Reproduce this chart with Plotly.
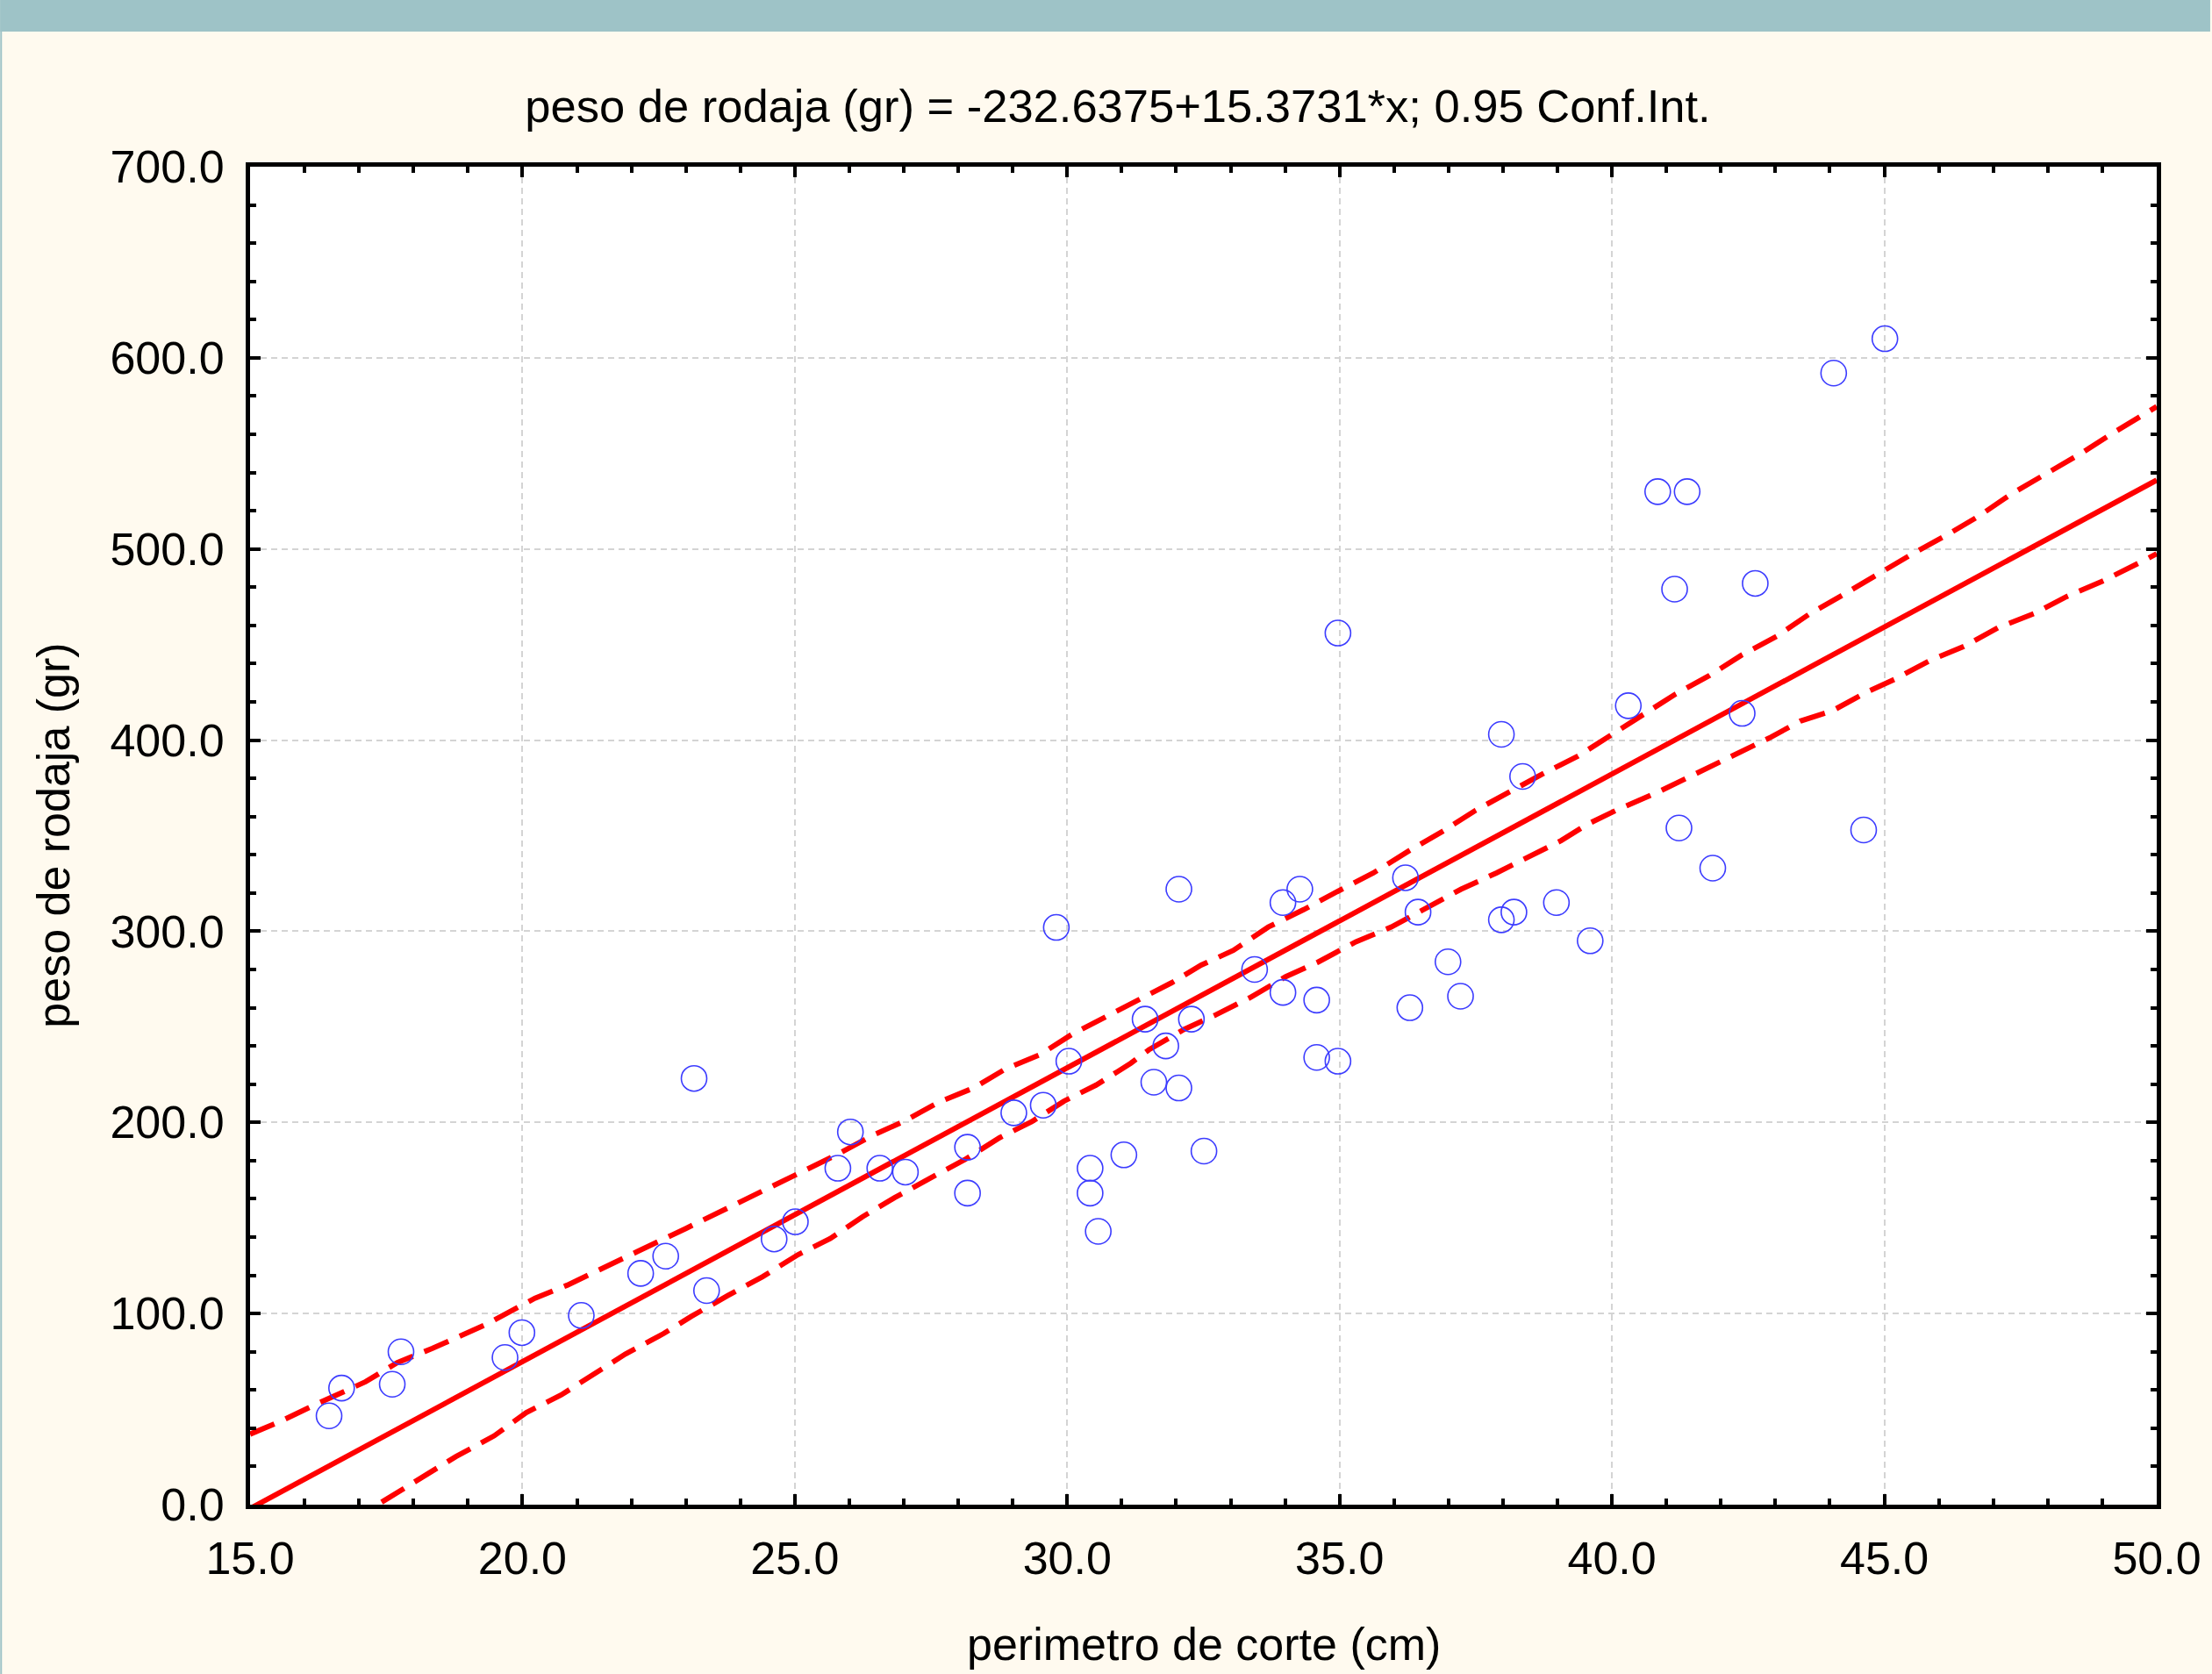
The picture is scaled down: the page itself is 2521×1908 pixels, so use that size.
import plotly.graph_objects as go

# ---- data ----
perimetro = [16.45, 16.68, 17.61, 17.77, 19.68, 19.99, 21.08, 22.17, 22.63, 23.15,
             23.38, 24.62, 25.01, 25.79, 26.02, 26.56, 27.03, 28.17, 28.17, 29.02,
             29.56, 29.80, 30.03, 30.42, 30.42, 30.57, 31.04, 31.43, 31.81, 31.59,
             32.05, 32.05, 32.28, 32.51, 33.44, 33.96, 33.96, 34.27, 34.58, 34.58,
             34.97, 34.97, 36.21, 36.29, 36.44, 36.99, 37.22, 37.97, 37.97, 38.20,
             38.36, 38.98, 39.60, 40.30, 40.84, 41.15, 41.23, 41.38, 41.85, 42.39,
             42.63, 44.07, 44.62, 45.01]
peso = [46.5, 61, 63, 80, 77, 90, 99, 121, 130, 223,
        112, 139, 148, 176, 195, 176, 174, 187, 163, 205,
        209, 302, 232, 176, 163, 143, 183, 254, 240, 221,
        218, 322, 254, 185, 280, 315, 268, 322, 264, 234,
        456, 232, 328, 260, 310, 284, 266, 403, 306, 310,
        381, 315, 295, 418, 530, 479, 354, 530, 333, 414,
        482, 592, 353, 610]

# regression line endpoints (from title: -232.6375 + 15.3731*x)
fit_x = [15.0, 50.0]
fit_y = [-2.04, 536.02]

# 0.95 confidence band
upper_x = [15.0, 15.56, 16.21, 17.12, 17.7, 18.35, 19.31, 20.23, 20.82, 21.46,
           22.1, 23.0, 23.77, 24.52, 25.22, 25.75, 26.4, 26.99, 27.63, 28.28,
           28.87, 29.51, 30.1, 30.69, 31.33, 31.92, 32.46, 33.05, 33.69, 34.34,
           35.04, 35.62, 36.27, 36.91, 37.5, 38.09, 38.74, 39.38, 39.97, 40.56,
           41.15, 41.79, 42.38, 43.03, 43.62, 44.21, 44.91, 45.5, 46.14, 46.73,
           47.32, 47.96, 48.61, 49.2, 50.0]
upper_y = [36.9, 43.6, 52.5, 64.3, 74.3, 81.8, 94.0, 108.0, 114.8, 123.9,
           132.3, 144.5, 155.3, 165.3, 175.2, 182.8, 192.8, 200.4, 210.4, 218.0,
           228.0, 235.6, 246.3, 254.8, 264.3, 273.1, 282.3, 290.0, 302.2, 311.3,
           322.0, 330.5, 342.0, 352.6, 363.3, 372.6, 382.5, 391.7, 402.4, 413.1,
           423.8, 433.8, 444.5, 454.4, 465.9, 475.5, 487.3, 497.2, 507.2, 517.1,
           528.6, 539.3, 550.0, 560.7, 574.5]
lower_x = [15.0, 17.28, 17.98, 18.78, 19.48, 20.07, 20.71, 21.36, 21.89, 22.59,
           23.1, 23.77, 24.41, 25.06, 25.65, 26.24, 26.83, 27.47, 28.12, 28.76,
           29.35, 29.94, 30.53, 31.17, 31.5, 32.14, 32.73, 33.37, 34.01, 34.6,
           35.3, 35.95, 36.59, 37.23, 37.88, 38.47, 39.06, 39.55, 40.08, 40.83,
           41.53, 42.22, 42.92, 43.46, 44.05, 44.69, 45.2, 45.82, 46.46, 47.1,
           47.75, 48.34, 49.03, 49.73, 50.0]
lower_y = [-41.0, -0.8, 11.5, 25.2, 36.0, 48.2, 57.4, 68.9, 78.8, 89.5,
           98.5, 109.4, 119.3, 130.8, 139.2, 150.6, 160.6, 170.6, 180.5, 192.0,
           200.4, 211.1, 219.5, 231.0, 238.0, 248.6, 256.3, 265.5, 276.2, 283.8,
           294.5, 302.2, 312.1, 322.0, 330.5, 338.9, 347.3, 356.0, 363.3, 372.6,
           382.4, 391.7, 401.6, 410.0, 415.4, 425.3, 432.0, 441.4, 449.0, 459.0,
           466.2, 475.0, 483.5, 493.5, 497.5]

title_text = "peso de rodaja (gr) = -232.6375+15.3731*x; 0.95 Conf.Int."
x_title = "perimetro de corte (cm)"
y_title = "peso de rodaja (gr)"

# ---- figure ----
W, H = 2521, 1908
ML, MR, MT, MB = 285, 61, 190, 193
PW, PH = W - ML - MR, H - MT - MB
FONT = "Arial, Liberation Sans, sans-serif"
BG = "#FFFAEF"
TEAL = "#9EC3C7"
RED = "#FF0000"

fig = go.Figure()
fig.add_trace(go.Scatter(x=upper_x, y=upper_y, mode="lines",
                         line=dict(color=RED, width=6, dash="30px,14px"),
                         showlegend=False, hoverinfo="skip"))
fig.add_trace(go.Scatter(x=lower_x, y=lower_y, mode="lines",
                         line=dict(color=RED, width=6, dash="30px,14px"),
                         showlegend=False, hoverinfo="skip"))
fig.add_trace(go.Scatter(x=fit_x, y=fit_y, mode="lines",
                         line=dict(color=RED, width=6),
                         showlegend=False))
fig.add_trace(go.Scatter(x=perimetro, y=peso, mode="markers",
                         marker=dict(symbol="circle-open", size=29, color="#3C3CFF",
                                     line=dict(width=1.6, color="#3C3CFF")),
                         showlegend=False))

axis_common = dict(
    showline=True, linecolor="black", linewidth=5, mirror="ticks",
    ticks="inside", ticklen=12, tickwidth=4, tickcolor="black",
    showgrid=True, gridcolor="#D4D4D4", gridwidth=1.5, griddash="7px,5px",
    zeroline=False, tickformat=".1f",
    tickfont=dict(family=FONT, size=52, color="black"),
)

fig.update_xaxes(range=[15, 50], dtick=5, tick0=15,
                 minor=dict(dtick=1, ticks="inside", ticklen=7, tickwidth=4,
                            tickcolor="black", showgrid=False),
                 ticklabelstandoff=12, **axis_common)
fig.update_yaxes(range=[0, 700], dtick=100, tick0=0,
                 minor=dict(dtick=20, ticks="inside", ticklen=7, tickwidth=4,
                            tickcolor="black", showgrid=False),
                 ticklabelstandoff=14, **axis_common)

fig.update_layout(
    width=W, height=H,
    margin=dict(l=ML, r=MR, t=MT, b=MB, pad=0),
    paper_bgcolor=BG, plot_bgcolor="white",
    font=dict(family=FONT, size=52, color="black"),
    title=dict(text=title_text, x=1274 / W, xanchor="center",
               y=1 - 121 / H, yanchor="middle", yref="container",
               font=dict(family=FONT, size=52.5, color="black")),
    showlegend=False,
    shapes=[
        dict(type="rect", xref="paper", yref="paper", layer="below",
             x0=-ML / PW, x1=1 + MR / PW,
             y0=1 + (MT - 36) / PH, y1=1 + MT / PH,
             fillcolor=TEAL, line=dict(width=0)),
        dict(type="rect", xref="paper", yref="paper", layer="below",
             x0=-ML / PW, x1=(-ML + 2) / PW,
             y0=-MB / PH, y1=1 + MT / PH,
             fillcolor=TEAL, line=dict(width=0)),
    ],
    annotations=[
        dict(text=x_title, xref="paper", yref="paper",
             x=0.5, y=-(1874 - (MT + PH)) / PH, xanchor="center", yanchor="middle",
             showarrow=False, font=dict(family=FONT, size=52, color="black")),
        dict(text=y_title, xref="paper", yref="paper", textangle=-90,
             x=-(ML - 60) / PW, y=0.5, xanchor="center", yanchor="middle",
             showarrow=False, font=dict(family=FONT, size=52, color="black")),
    ],
)

fig.write_html("out.html",
               config={"displayModeBar": False},
               post_script="document.body.style.margin='0';document.body.style.padding='0';")
